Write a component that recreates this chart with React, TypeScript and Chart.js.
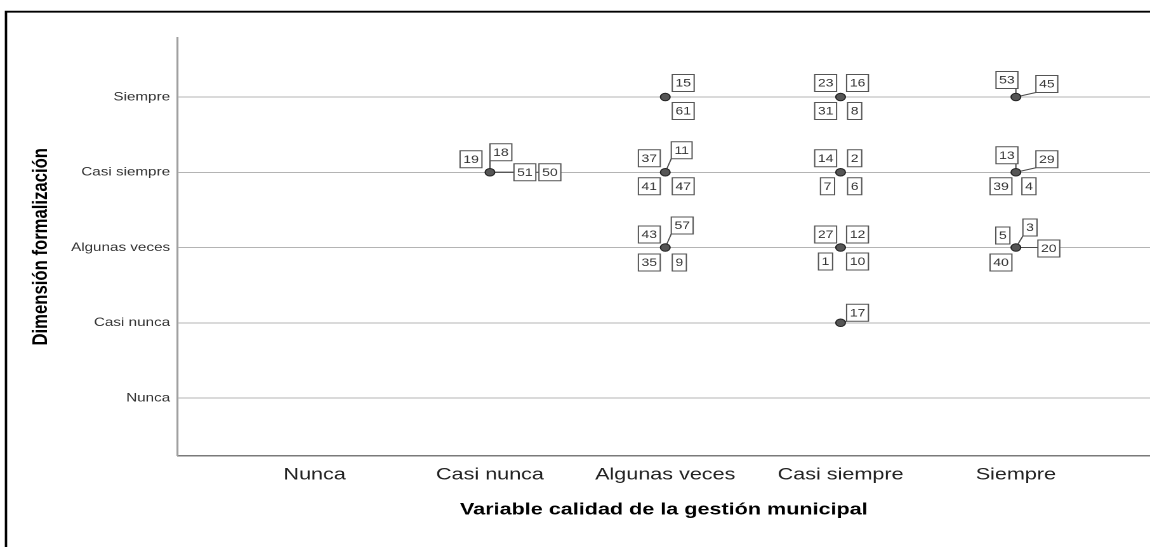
import React, { useEffect, useRef } from "react";
import { Chart, registerables } from "chart.js";

Chart.register(...registerables);

// ---- data -------------------------------------------------------------
const xCategories = ["Nunca", "Casi nunca", "Algunas veces", "Casi siempre", "Siempre"];
const yCategories = ["Nunca", "Casi nunca", "Algunas veces", "Casi siempre", "Siempre"];

const xTitle = "Variable calidad de la gestión municipal";
const yTitle = "Dimensión formalización";

// one entry per plotted point
const pointXCategory = [
  "Casi nunca",
  "Algunas veces", "Algunas veces", "Algunas veces",
  "Casi siempre", "Casi siempre", "Casi siempre", "Casi siempre",
  "Siempre", "Siempre", "Siempre",
];
const pointYCategory = [
  "Casi siempre",
  "Siempre", "Casi siempre", "Algunas veces",
  "Siempre", "Casi siempre", "Algunas veces", "Casi nunca",
  "Siempre", "Casi siempre", "Algunas veces",
];
const pointCaseIds = [
  [19, 18, 51, 50],
  [15, 61],
  [37, 11, 41, 47],
  [43, 57, 35, 9],
  [23, 16, 31, 8],
  [14, 2, 7, 6],
  [27, 12, 1, 10],
  [17],
  [53, 45],
  [13, 29, 39, 4],
  [5, 3, 20, 40],
];

// ---- layout (not data): where each case-id box sits around its point ----
// [side of point, horizontal offset of the inner box edge, vertical offset of box centre, leader line]
type Slot = [string, number, number, boolean];
const LABEL_LAYOUT: Slot[][] = [
  [["L", -8, -13, false], ["R", 0, -20, true], ["R", 24, 0, true], ["R", 49, 0, true]],
  [["R", 7, -14, false], ["R", 7, 14, false]],
  [["L", -5, -14, false], ["R", 6, -22, true], ["L", -5, 14, false], ["R", 7, 14, false]],
  [["L", -5, -13, false], ["R", 6, -22, true], ["L", -5, 15, false], ["R", 7, 15, false]],
  [["L", -4, -14, false], ["R", 6, -14, false], ["L", -4, 14, false], ["R", 7, 14, false]],
  [["L", -4, -14, false], ["R", 7, -14, false], ["L", -6, 14, false], ["R", 7, 14, false]],
  [["L", -4, -13, false], ["R", 6, -13, false], ["L", -8, 14, false], ["R", 6, 14, false]],
  [["R", 6, -10, true]],
  [["L", 2, -17, true], ["R", 20, -13, true]],
  [["L", 2, -17, true], ["R", 20, -13, true], ["L", -4, 14, false], ["R", 6, 14, false]],
  [["L", -6, -12, false], ["R", 7, -20, true], ["R", 22, 1, true], ["L", -4, 15, false]],
];

const STRETCH = 1150 / 906; // the reference image is horizontally stretched
const W = 906;
const H = 547;
const FONT = '"Liberation Sans", Arial, Helvetica, sans-serif';

export default function App() {
  const ref = useRef<HTMLCanvasElement | null>(null);

  useEffect(() => {
    const canvas = ref.current;
    if (!canvas) return;
    canvas.width = W;
    canvas.height = H;

    const points = pointXCategory.map((c, i) => ({
      x: xCategories.indexOf(c) + 1,
      y: yCategories.indexOf(pointYCategory[i]) + 1,
    }));

    const computeBoxes = (chart: any) => {
      const ctx = chart.ctx;
      ctx.save();
      ctx.font = `11px ${FONT}`;
      const meta = chart.getDatasetMeta(0);
      const boxes: any[] = [];
      meta.data.forEach((el: any, i: number) => {
        const px = el.x;
        const py = el.y;
        pointCaseIds[i].forEach((id, j) => {
          const [side, dxRef, dy, leader] = LABEL_LAYOUT[i][j];
          const text = String(id);
          const w = ctx.measureText(text).width + 5;
          const h = 17;
          const edge = px + dxRef / STRETCH;
          const left = side === "R" ? edge : edge - w;
          const top = py + dy - h / 2;
          boxes.push({ text, left, top, w, h, leader, px, py });
        });
      });
      ctx.restore();
      return boxes;
    };

    const framePlugin = {
      id: "outerFrame",
      beforeDraw(chart: any) {
        const ctx = chart.ctx;
        ctx.save();
        ctx.strokeStyle = "#000";
        ctx.lineWidth = 1.9;
        ctx.beginPath();
        ctx.moveTo(6 / STRETCH, H + 10);
        ctx.lineTo(6 / STRETCH, 11.7);
        ctx.lineTo(W + 10, 11.7);
        ctx.stroke();
        ctx.restore();
      },
    };

    const labelPlugin = {
      id: "caseLabels",
      beforeDatasetsDraw(chart: any) {
        const ctx = chart.ctx;
        const boxes = computeBoxes(chart);
        ctx.save();
        ctx.strokeStyle = "#4a4a4a";
        ctx.lineWidth = 1;
        boxes.forEach((b) => {
          if (!b.leader) return;
          const tx = Math.min(Math.max(b.px, b.left), b.left + b.w);
          const ty = Math.min(Math.max(b.py, b.top), b.top + b.h);
          ctx.beginPath();
          ctx.moveTo(b.px, b.py);
          ctx.lineTo(tx, ty);
          ctx.stroke();
        });
        ctx.restore();
      },
      afterDatasetsDraw(chart: any) {
        const ctx = chart.ctx;
        const boxes = computeBoxes(chart);
        ctx.save();
        ctx.font = `11px ${FONT}`;
        ctx.textAlign = "center";
        ctx.textBaseline = "middle";
        boxes.forEach((b) => {
          ctx.fillStyle = "#ffffff";
          ctx.fillRect(b.left, b.top, b.w, b.h);
          ctx.strokeStyle = "#555555";
          ctx.lineWidth = 1;
          ctx.strokeRect(b.left, b.top, b.w, b.h);
          ctx.fillStyle = "#333333";
          ctx.fillText(b.text, b.left + b.w / 2, b.top + b.h / 2 + 0.5);
        });
        ctx.restore();
      },
    };

    const chart = new Chart(canvas, {
      type: "scatter",
      data: {
        datasets: [
          {
            data: points,
            pointRadius: 3.8,
            pointBackgroundColor: "#555555",
            pointBorderColor: "#222222",
            pointBorderWidth: 1,
          },
        ],
      },
      options: {
        responsive: false,
        animation: false,
        devicePixelRatio: 2,
        events: [],
        layout: { autoPadding: false, padding: { left: 0, top: 38, right: 0, bottom: 0 } },
        plugins: { legend: { display: false }, tooltip: { enabled: false } },
        scales: {
          x: {
            type: "linear",
            min: 0.219,
            max: 5.765,
            afterBuildTicks: (s: any) => {
              s.ticks = xCategories.map((_, i) => ({ value: i + 1 }));
            },
            afterFit: (s: any) => {
              s.height = 91.5;
            },
            grid: { display: false, drawTicks: false },
            border: { display: true, color: "#7a7a7a", width: 1.5 },
            ticks: {
              callback: (v: any) => xCategories[Math.round(Number(v)) - 1] ?? "",
              font: { family: FONT, size: 17 },
              color: "#222",
              padding: 9,
              maxRotation: 0,
              autoSkip: false,
            },
            title: {
              display: true,
              text: xTitle,
              font: { family: FONT, size: 17, weight: "bold" },
              color: "#000",
              padding: { top: 0, bottom: 27 },
            },
          },
          y: {
            type: "linear",
            min: 0.236,
            max: 5.784,
            afterBuildTicks: (s: any) => {
              s.ticks = yCategories.map((_, i) => ({ value: i + 1 }));
            },
            afterFit: (s: any) => {
              s.width = 140;
            },
            grid: { color: "#b4b4b4", lineWidth: 1, drawTicks: false },
            border: { display: true, color: "#a0a0a0", width: 1.6 },
            ticks: {
              callback: (v: any) => yCategories[Math.round(Number(v)) - 1] ?? "",
              font: { family: FONT, size: 12 },
              color: "#333",
              padding: 6,
              autoSkip: false,
            },
            title: {
              display: true,
              text: yTitle,
              font: { family: FONT, size: 16.7, weight: "bold" },
              color: "#000",
              padding: { top: 22.3, bottom: 0 },
            },
          },
        },
      },
      plugins: [framePlugin, labelPlugin],
    } as any);

    return () => {
      chart.destroy();
    };
  }, []);

  return (
    <div style={{ position: "fixed", left: 0, top: 0, width: 1150, height: 547, background: "#fff", overflow: "hidden" }}>
      <canvas
        ref={ref}
        width={W}
        height={H}
        style={{ width: "1150px", height: "547px", display: "block" }}
      />
    </div>
  );
}
